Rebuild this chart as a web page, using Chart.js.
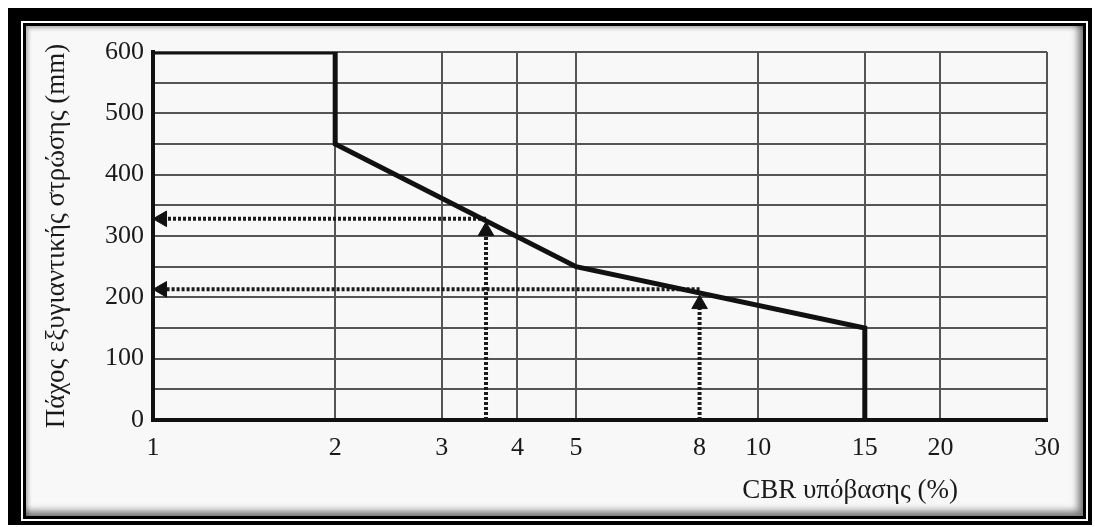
<!DOCTYPE html>
<html lang="el">
    <head>
        <meta charset="UTF-8" />
        <title>CBR υπόβασης</title>
        <script src="https://cdn.jsdelivr.net/npm/chart.js@4/dist/chart.umd.min.js"></script>
        <style>
            body { margin: 0; background: #fff; }
            #outer { position: absolute; left: 8px; top: 8px; width: 1084px; height: 517px; background: #000; }
            #gap { position: absolute; left: 13px; top: 13px; right: 4px; bottom: 4px; background: #fff; }
            #panel { position: absolute; left: 2px; top: 2px; right: 2px; bottom: 2px; border: 3px solid #000;
                     background: #f8f8f8; box-shadow: inset 2px 2px 4px rgba(0,0,0,0.3), inset -5px -5px 7px rgba(0,0,0,0.5); }
            #mychart { position: absolute; left: 0; top: 0; }
        </style>
    </head>
    <body>
        <div id="outer"><div id="gap"><div id="panel"></div></div></div>
        <canvas id="mychart" width="1095" height="527"></canvas>
        <script>
            // x ticks (log scale)
            const xTickVals = [1, 2, 3, 4, 5, 8, 10, 15, 20, 30];
            // y grid every 50, labels every 100
            const yTickVals = [0, 50, 100, 150, 200, 250, 300, 350, 400, 450, 500, 550, 600];

            // design curve
            const curveCbr = [1, 2, 2, 5, 15, 15];
            const curveThk = [600, 600, 450, 250, 150, 0];

            // reading examples (dotted arrows)
            const arrowCbr = [3.55, 8];
            const arrowThk = [328, 213];     // horizontal arrow level
            const arrowHeadThk = [308, 189]; // head of the vertical arrow
            const arrowTipCbr = 1.035;       // head of the horizontal arrow, at the axis

            const serif = "'Liberation Serif', 'DejaVu Serif', serif";
            const ctx = document.getElementById("mychart").getContext("2d");

            const datasets = [{
                data: curveCbr.map((x, i) => ({ x: x, y: curveThk[i] })),
                showLine: true,
                borderColor: '#111',
                borderWidth: 5,
                borderJoinStyle: 'miter',
                pointRadius: 0,
                tension: 0
            }];

            arrowCbr.forEach((x, i) => {
                const arrowStyle = {
                    showLine: true,
                    borderColor: '#1a1a1a',
                    borderWidth: 4,
                    borderDash: [3, 2],
                    pointStyle: 'triangle',
                    pointRadius: [0, 9],
                    pointBackgroundColor: '#111',
                    pointBorderColor: '#111',
                    pointBorderWidth: 1,
                    clip: false,
                    tension: 0
                };
                datasets.push(Object.assign({
                    data: [{ x: x, y: 0 }, { x: x, y: arrowHeadThk[i] }],
                    pointRotation: 0
                }, arrowStyle));
                datasets.push(Object.assign({
                    data: [{ x: x, y: arrowThk[i] }, { x: arrowTipCbr, y: arrowThk[i] }],
                    pointRotation: -90
                }, arrowStyle));
            });

            const xTitle = {
                id: 'xTitle',
                afterDraw(chart) {
                    const c = chart.ctx;
                    const a = chart.chartArea;
                    c.save();
                    c.font = "27px " + serif;
                    c.fillStyle = '#1a1a1a';
                    c.textAlign = 'center';
                    c.textBaseline = 'middle';
                    c.fillText("CBR υπόβασης (%)", a.right - 197, 491);
                    c.restore();
                }
            };

            const myChart = new Chart(ctx, {
                type: 'scatter',
                data: { datasets: datasets },
                plugins: [xTitle],
                options: {
                    responsive: false,
                    animation: false,
                    layout: { padding: { top: 52, right: 48, left: 0, bottom: 0 } },
                    plugins: { legend: { display: false }, tooltip: { enabled: false } },
                    scales: {
                        x: {
                            type: 'logarithmic',
                            min: 1,
                            max: 30,
                            afterBuildTicks: s => { s.ticks = xTickVals.map(v => ({ value: v })); },
                            afterFit: s => { s.height = 107; },
                            ticks: {
                                callback: v => String(v),
                                autoSkip: false,
                                maxRotation: 0,
                                padding: 13,
                                color: '#1a1a1a',
                                font: { family: serif, size: 26 }
                            },
                            grid: {
                                color: c => (c.tick && c.tick.value === 8) ? 'rgba(0,0,0,0)' : '#555',
                                lineWidth: 2,
                                drawTicks: false
                            },
                            border: { color: '#111', width: 4 }
                        },
                        y: {
                            min: 0,
                            max: 600,
                            afterBuildTicks: s => { s.ticks = yTickVals.map(v => ({ value: v })); },
                            afterFit: s => { s.width = 153; },
                            ticks: {
                                autoSkip: false,
                                callback: v => (v % 100 === 0 ? String(v) : ''),
                                padding: 9,
                                color: '#1a1a1a',
                                font: { family: serif, size: 26 }
                            },
                            grid: { color: '#555', lineWidth: 2, drawTicks: false },
                            border: { color: '#111', width: 4 },
                            title: {
                                display: true,
                                text: "Πάχος εξυγιαντικής στρώσης (mm)",
                                color: '#1a1a1a',
                                font: { family: serif, size: 27 },
                                padding: { top: 41, bottom: 0 }
                            }
                        }
                    }
                }
            });
        </script>
    </body>
</html>
